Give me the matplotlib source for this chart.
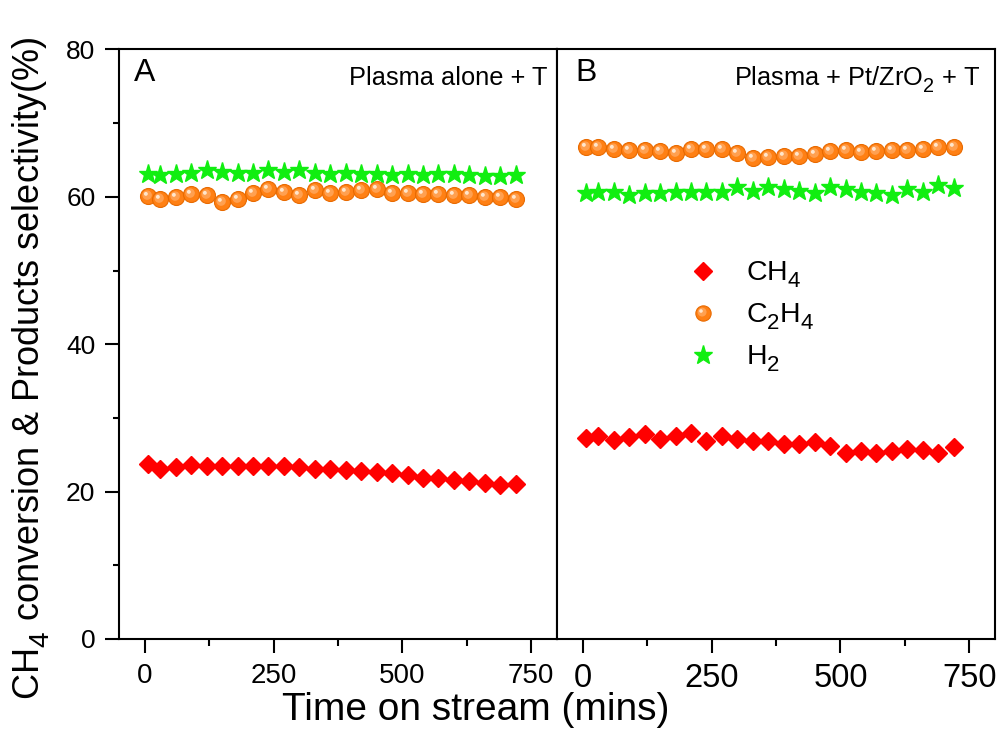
import numpy as np
import matplotlib
matplotlib.use('Agg')
import matplotlib.pyplot as plt
import matplotlib._mathtext as mtext
from matplotlib.path import Path
from matplotlib.ticker import MultipleLocator

plt.rcParams['font.family'] = ['Liberation Sans', 'DejaVu Sans']
plt.rcParams['mathtext.fontset'] = 'custom'
plt.rcParams['mathtext.rm'] = 'Liberation Sans'
plt.rcParams['mathtext.it'] = 'Liberation Sans:italic'
plt.rcParams['mathtext.bf'] = 'Liberation Sans:bold'
# Origin-style subscripts: a bit larger and lower than the mathtext default
mtext.SHRINK_FACTOR = 0.78
mtext.FontConstantsBase.sub1 = 0.5

# time on stream (mins)
time = [7, 30, 60, 90, 120, 150, 180, 210, 240, 270, 300, 330, 360,
        390, 420, 450, 480, 510, 540, 570, 600, 630, 660, 690, 720]

# A: plasma alone + T
ch4_a = [23.7, 23.1, 23.4, 23.6, 23.5, 23.5, 23.5, 23.5, 23.5, 23.5, 23.3, 23.1, 23.1,
         22.9, 22.8, 22.6, 22.5, 22.2, 21.9, 21.8, 21.6, 21.4, 21.2, 20.9, 21.0]
c2h4_a = [60.1, 59.7, 60.0, 60.4, 60.3, 59.3, 59.7, 60.5, 61.1, 60.6, 60.2, 60.9, 60.5,
          60.7, 60.9, 61.0, 60.5, 60.5, 60.4, 60.4, 60.3, 60.2, 60.0, 60.0, 59.7]
h2_a = [63.1, 63.0, 63.1, 63.2, 63.6, 63.4, 63.2, 63.2, 63.6, 63.4, 63.7, 63.2, 63.1,
        63.2, 63.1, 63.1, 63.0, 63.1, 63.0, 63.1, 63.1, 62.9, 62.8, 62.8, 63.0]

# B: plasma + Pt/ZrO2 + T
ch4_b = [27.3, 27.6, 27.0, 27.4, 27.8, 27.1, 27.5, 27.9, 26.9, 27.5, 27.1, 26.8, 26.9,
         26.5, 26.5, 26.7, 26.2, 25.3, 25.5, 25.3, 25.5, 25.8, 25.6, 25.3, 26.0]
c2h4_b = [66.8, 66.7, 66.5, 66.4, 66.3, 66.2, 65.9, 66.5, 66.5, 66.5, 65.9, 65.3, 65.4,
          65.5, 65.6, 65.8, 66.2, 66.3, 66.1, 66.2, 66.3, 66.3, 66.5, 66.7, 66.7]
h2_b = [60.5, 60.6, 60.6, 60.2, 60.5, 60.5, 60.6, 60.6, 60.6, 60.6, 61.4, 60.8, 61.3,
        61.0, 60.8, 60.5, 61.3, 61.0, 60.6, 60.5, 60.2, 61.0, 60.6, 61.6, 61.2]

red = '#ff0000'
orange = '#ff8014'
green = '#11ee11'


def spot(a, r):
    # small circle offset to the upper left, sized in points
    return Path.circle((-a, a), r), 2 * (a + r)


def balls(ax, x, y, ms=11.5):
    ax.plot(x, y, ls='none', marker='o', ms=ms, mfc=orange, mec='#e86a00', mew=0.8, zorder=3)
    p1, s1 = spot(1.0, 3.4)
    ax.plot(x, y, ls='none', marker=p1, ms=s1, mfc='#ffa050', mec='none', zorder=4)
    p2, s2 = spot(1.9, 1.4)
    ax.plot(x, y, ls='none', marker=p2, ms=s2, mfc='#ffe6cc', mec='none', zorder=5)


fig = plt.figure(figsize=(10, 7.3), dpi=100)
ax1 = fig.add_axes([0.119, 0.1247, 0.438, 0.8075])
ax2 = fig.add_axes([0.557, 0.1247, 0.438, 0.8075], sharey=ax1)

for ax, ch4, c2h4, h2 in [(ax1, ch4_a, c2h4_a, h2_a), (ax2, ch4_b, c2h4_b, h2_b)]:
    ax.plot(time, ch4, ls='none', marker='D', ms=9, color=red, mec=red, zorder=3)
    balls(ax, time, c2h4)
    ax.plot(time, h2, ls='none', marker='*', ms=14, color=green, mec=green, zorder=3)
    ax.set_xlim(-50, 800)
    ax.xaxis.set_major_locator(MultipleLocator(250))
    ax.xaxis.set_minor_locator(MultipleLocator(125))
    for s in ax.spines.values():
        s.set_linewidth(1.5)
    ax.tick_params(axis='x', which='major', direction='out', length=10, width=1.5, pad=7)
    ax.tick_params(axis='x', which='minor', direction='out', length=5, width=1.5)

ax1.set_ylim(0, 80)
ax1.yaxis.set_major_locator(MultipleLocator(20))
ax1.yaxis.set_minor_locator(MultipleLocator(10))
ax1.tick_params(axis='y', which='major', direction='out', length=10, width=1.5, pad=7, labelsize=19)
ax1.tick_params(axis='y', which='minor', direction='out', length=4.5, width=1.5)
ax1.tick_params(axis='x', which='major', labelsize=20)
ax2.tick_params(axis='x', which='major', labelsize=23.5)
ax2.tick_params(axis='y', which='both', left=False, labelleft=False)

ax1.text(0.034, 0.985, 'A', transform=ax1.transAxes, fontsize=23, va='top', ha='left')
ax1.text(0.979, 0.94, 'Plasma alone + T', transform=ax1.transAxes, fontsize=18.3,
         va='baseline', ha='right')
ax2.text(0.041, 0.985, 'B', transform=ax2.transAxes, fontsize=23, va='top', ha='left')
ax2.text(0.966, 0.94, 'Plasma + Pt/ZrO$_2$ + T', transform=ax2.transAxes, fontsize=18.3,
         va='baseline', ha='right')

# legend
h_ch4, = ax2.plot([], [], ls='none', marker='D', ms=9.5, color=red)
h_ball = ax2.plot([], [], ls='none', marker='o', ms=11, mfc=orange, mec='#e86a00', mew=0.8)[0]
p1, s1 = spot(1.0, 3.2)
h_s1 = ax2.plot([], [], ls='none', marker=p1, ms=s1, mfc='#ffa050', mec='none')[0]
p2, s2 = spot(1.8, 1.3)
h_s2 = ax2.plot([], [], ls='none', marker=p2, ms=s2, mfc='#ffe6cc', mec='none')[0]
h_h2, = ax2.plot([], [], ls='none', marker='*', ms=14, color=green)
fig.legend([h_ch4, (h_ball, h_s1, h_s2), h_h2], ['CH$_4$', 'C$_2$H$_4$', 'H$_2$'],
           loc='upper left', bbox_to_anchor=(0.689, 0.644), frameon=False, fontsize=20.5,
           handlelength=1.0, handletextpad=1.0, labelspacing=0.4, borderpad=0,
           borderaxespad=0)

fig.text(0.476, 1 - 710 / 730, 'Time on stream (mins)', fontsize=28, ha='center', va='center')
fig.text(0.031, 1 - 368 / 730, 'CH$_4$ conversion & Products selectivity(%)', fontsize=26,
         rotation=90, ha='center', va='center')

fig.savefig('out.png', dpi=100)
